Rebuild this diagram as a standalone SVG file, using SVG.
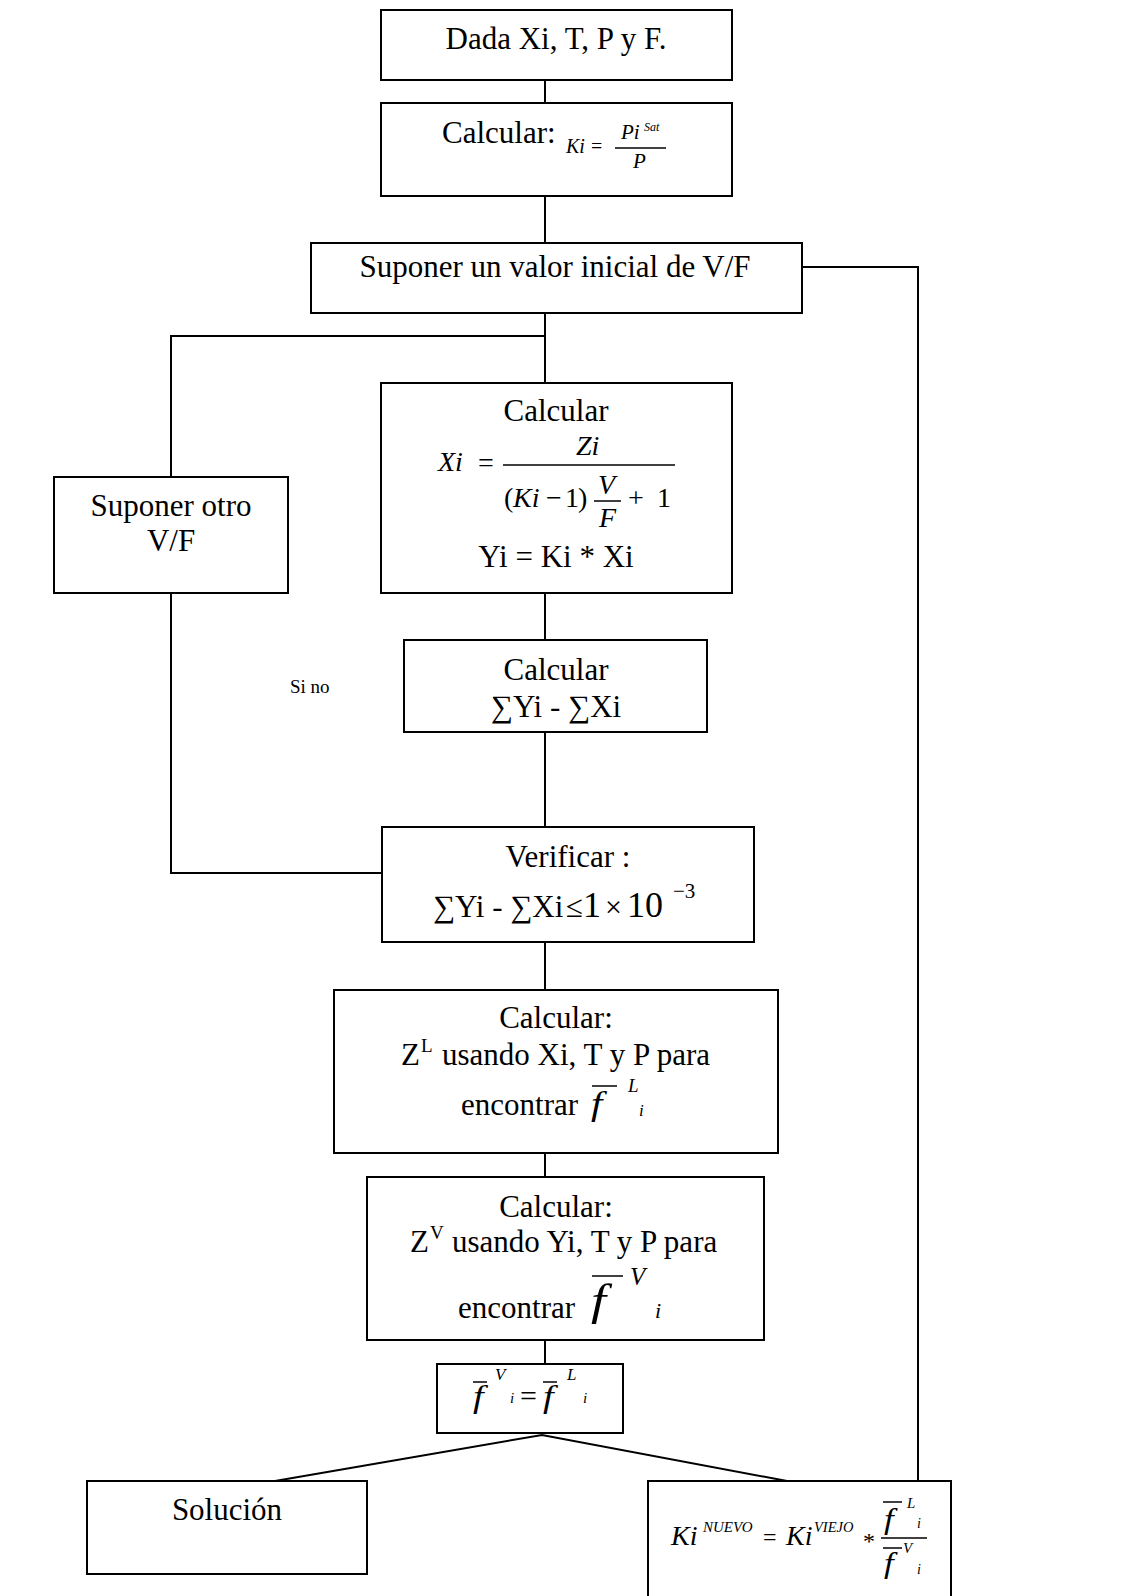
<svg xmlns="http://www.w3.org/2000/svg" width="1124" height="1596" viewBox="0 0 1124 1596">
<style>
rect{fill:#fff;stroke:#000;stroke-width:2}
.c line,.c polyline{stroke:#000;stroke-width:2;fill:none}
text{font-family:"Liberation Serif","Times New Roman",serif;fill:#000}
.t{font-size:31px}
.m{text-anchor:middle}
.i{font-style:italic}
.ob{stroke:#000;stroke-width:1.5}
</style>
<rect x="0" y="0" width="1124" height="1596" style="stroke:none"/>
<g class="c" id="connectors">
<line x1="545" y1="80" x2="545" y2="103"/>
<line x1="545" y1="196" x2="545" y2="243"/>
<line x1="545" y1="313" x2="545" y2="383"/>
<polyline points="545,336 171,336 171,477"/>
<polyline points="171,593 171,873 382,873"/>
<line x1="545" y1="593" x2="545" y2="640"/>
<line x1="545" y1="732" x2="545" y2="827"/>
<line x1="545" y1="942" x2="545" y2="990"/>
<line x1="545" y1="1153" x2="545" y2="1177"/>
<line x1="545" y1="1340" x2="545" y2="1364"/>
<polyline points="275,1481 542,1435 787,1481"/>
<polyline points="802,267 918,267 918,1481"/>
</g>
<g id="n1">
<rect x="381" y="10" width="351" height="70"/>
<text class="t m" x="556" y="49">Dada Xi, T, P y F.</text>
</g>
<g id="n2">
<rect x="381" y="103" width="351" height="93"/>
<text class="t" x="442" y="143">Calcular:</text>
<text class="i" x="566" y="153" font-size="20">Ki</text>
<text x="591" y="153" font-size="20">=</text>
<line class="ob" x1="615" y1="148" x2="666" y2="148"/>
<text class="i" x="621" y="139" font-size="21">Pi</text>
<text class="i" x="644" y="131" font-size="12">Sat</text>
<text class="i" x="633" y="168" font-size="21">P</text>
</g>
<g id="n3">
<rect x="311" y="243" width="491" height="70"/>
<text class="t m" x="555" y="277">Suponer un valor inicial de V/F</text>
</g>
<g id="n4">
<rect x="54" y="477" width="234" height="116"/>
<text class="t m" x="171" y="516">Suponer otro</text>
<text class="t m" x="171" y="551">V/F</text>
</g>
<g id="n5">
<rect x="381" y="383" width="351" height="210"/>
<text class="t m" x="556" y="421">Calcular</text>
<text class="i" x="438" y="471" font-size="28">Xi</text>
<text x="478" y="472" font-size="28">=</text>
<line class="ob" x1="503" y1="465" x2="675" y2="465"/>
<text class="i" x="576" y="455" font-size="28">Zi</text>
<text x="504" y="507" font-size="28">(</text>
<text class="i" x="513" y="507" font-size="28">Ki</text>
<text x="546" y="507" font-size="28">−</text>
<text x="565" y="507" font-size="28">1</text>
<text x="578" y="507" font-size="28">)</text>
<text class="i" x="598" y="494" font-size="28">V</text>
<line class="ob" x1="594" y1="501" x2="621" y2="501"/>
<text class="i" x="599" y="527" font-size="28">F</text>
<text x="628" y="507" font-size="28">+</text>
<text x="657" y="507" font-size="28">1</text>
<text class="t m" x="556" y="567">Yi = Ki * Xi</text>
</g>
<g id="n6">
<rect x="404" y="640" width="303" height="92"/>
<text class="t m" x="556" y="680">Calcular</text>
<text class="t m" x="556" y="717">∑Yi - ∑Xi</text>
</g>
<text x="290" y="693" font-size="19">Si no</text>
<g id="n7">
<rect x="382" y="827" width="372" height="115"/>
<text class="t m" x="568" y="867">Verificar :</text>
<text class="t" x="433" y="917">∑Yi - ∑Xi</text>
<text class="t" x="566" y="917">≤</text>
<text x="583" y="917" font-size="36">1</text>
<text x="605" y="917" font-size="30">×</text>
<text x="627" y="917" font-size="36">10</text>
<text x="673" y="898" font-size="21">−3</text>
</g>
<g id="n8">
<rect x="334" y="990" width="444" height="163"/>
<text class="t m" x="556" y="1028">Calcular:</text>
<text class="t" x="401" y="1065">Z</text>
<text x="421" y="1052" font-size="19">L</text>
<text class="t" x="442" y="1065">usando Xi, T y P para</text>
<text class="t" x="461" y="1115">encontrar</text>
<text class="i" font-size="34" transform="translate(591,1115) scale(1.2,1)">f</text>
<line class="ob" x1="592" y1="1086" x2="617" y2="1086"/>
<text class="i" x="628" y="1092" font-size="19">L</text>
<text class="i" x="639" y="1116" font-size="17">i</text>
</g>
<g id="n9">
<rect x="367" y="1177" width="397" height="163"/>
<text class="t m" x="556" y="1217">Calcular:</text>
<text class="t" x="410" y="1252">Z</text>
<text x="430" y="1239" font-size="19">V</text>
<text class="t" x="452" y="1252">usando Yi, T y P para</text>
<text class="t" x="458" y="1318">encontrar</text>
<text class="i" font-size="45" transform="translate(591,1315) scale(1.2,1)">f</text>
<line class="ob" x1="592" y1="1276" x2="623" y2="1276"/>
<text class="i" x="630" y="1285" font-size="25">V</text>
<text class="i" x="655" y="1318" font-size="22">i</text>
</g>
<g id="n10">
<rect x="437" y="1364" width="186" height="69"/>
<text class="i" font-size="32" transform="translate(473,1407) scale(1.2,1)">f</text>
<line class="ob" x1="473" y1="1382" x2="487" y2="1382"/>
<text class="i" x="495" y="1380" font-size="17">V</text>
<text class="i" x="510" y="1403" font-size="15">i</text>
<text x="520" y="1406" font-size="30">=</text>
<text class="i" font-size="32" transform="translate(543,1407) scale(1.2,1)">f</text>
<line class="ob" x1="543" y1="1382" x2="557" y2="1382"/>
<text class="i" x="567" y="1380" font-size="17">L</text>
<text class="i" x="583" y="1403" font-size="15">i</text>
</g>
<g id="n11">
<rect x="87" y="1481" width="280" height="93"/>
<text class="t m" x="227" y="1520">Solución</text>
</g>
<g id="n12">
<rect x="648" y="1481" width="303" height="140"/>
<text class="i" x="671" y="1545" font-size="28">Ki</text>
<text class="i" x="703" y="1532" font-size="15">NUEVO</text>
<text x="763" y="1545" font-size="24">=</text>
<text class="i" x="786" y="1545" font-size="28">Ki</text>
<text class="i" x="814" y="1532" font-size="14.5">VIEJO</text>
<text x="863" y="1549" font-size="24">*</text>
<line class="ob" x1="881" y1="1538" x2="927" y2="1538"/>
<text class="i" font-size="29" transform="translate(884,1529) scale(1.2,1)">f</text>
<line class="ob" x1="883" y1="1502" x2="902" y2="1502"/>
<text class="i" x="907" y="1508" font-size="15">L</text>
<text class="i" x="917" y="1528" font-size="14">i</text>
<text class="i" font-size="29" transform="translate(884,1573) scale(1.2,1)">f</text>
<line class="ob" x1="883" y1="1548" x2="902" y2="1548"/>
<text class="i" x="903" y="1553" font-size="15">V</text>
<text class="i" x="917" y="1574" font-size="14">i</text>
</g>
</svg>
